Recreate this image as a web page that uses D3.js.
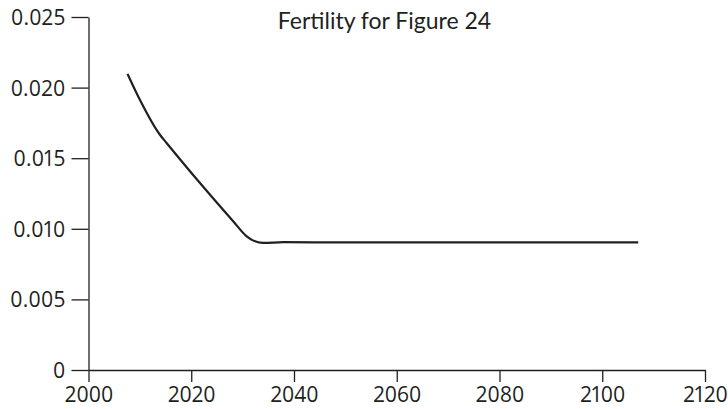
<!DOCTYPE html>
<html>
<head>
<meta charset="utf-8">
<script src="https://cdn.jsdelivr.net/npm/d3@7"></script>
<style>
  html, body { margin: 0; padding: 0; background: #fff; }
  svg { display: block; }
  .tick text { font-family: "Open Sans", sans-serif; font-size: 21px; fill: #231f20; font-variant-numeric: proportional-nums; }
  .y-axis .tick text { letter-spacing: 0.2px; }
  .domain, .tick line { stroke: #231f20; stroke-width: 1.3px; }
</style>
</head>
<body>
<svg id="chart" width="728" height="409"></svg>
<script>
// Fertility rate series (per year)
const years  = [2007.6, 2010, 2013.9, 2015.2, 2021.7, 2028.2, 2030.8, 2032, 2034, 2038, 2050, 2070, 2090, 2107];
const values = [0.02097, 0.01914, 0.01666, 0.01608, 0.01324, 0.01052, 0.00946, 0.00918, 0.00900, 0.00905, 0.00904, 0.00904, 0.00904, 0.00904];

const xTicks = [2000, 2020, 2040, 2060, 2080, 2100, 2120];
const yTicks = [0, 0.005, 0.010, 0.015, 0.020, 0.025];
const yTickLabels = ["0", "0.005", "0.010", "0.015", "0.020", "0.025"];
const title = "Fertility for Figure 24";

const svg = d3.select("#chart");
const margin = { left: 88.5, right: 23, top: 17, bottom: 39 };
const W = 728, H = 409;

const x = d3.scaleLinear().domain([2000, 2120]).range([margin.left, W - margin.right]);
const y = d3.scaleLinear().domain([0, 0.025]).range([H - margin.bottom, margin.top]);

// y axis
svg.append("g")
  .attr("class", "y-axis")
  .attr("transform", `translate(${margin.left},0)`)
  .call(d3.axisLeft(y).tickValues(yTicks)
    .tickFormat((d, i) => yTickLabels[i])
    .tickSize(17).tickSizeOuter(0).tickPadding(6))
  .call(g => g.selectAll(".tick text").attr("dy", "0.36em"));

// x axis
svg.append("g")
  .attr("class", "x-axis")
  .attr("transform", `translate(0,${y(0)})`)
  .call(d3.axisBottom(x).tickValues(xTicks).tickFormat(d3.format("d"))
    .tickSize(12).tickSizeOuter(0).tickPadding(5));

// series line
const line = d3.line()
  .x((d, i) => x(years[i]))
  .y(d => y(d))
  .curve(d3.curveMonotoneX);

svg.append("path")
  .datum(values)
  .attr("fill", "none")
  .attr("stroke", "#231f20")
  .attr("stroke-width", 2.2)
  .attr("stroke-linejoin", "round")
  .attr("d", line);

// title
svg.append("text")
  .attr("x", 384.5)
  .attr("y", 29)
  .attr("text-anchor", "middle")
  .attr("font-family", "Lato, sans-serif")
  .attr("font-size", 23)
  .attr("fill", "#231f20")
  .text(title);
</script>
</body>
</html>
